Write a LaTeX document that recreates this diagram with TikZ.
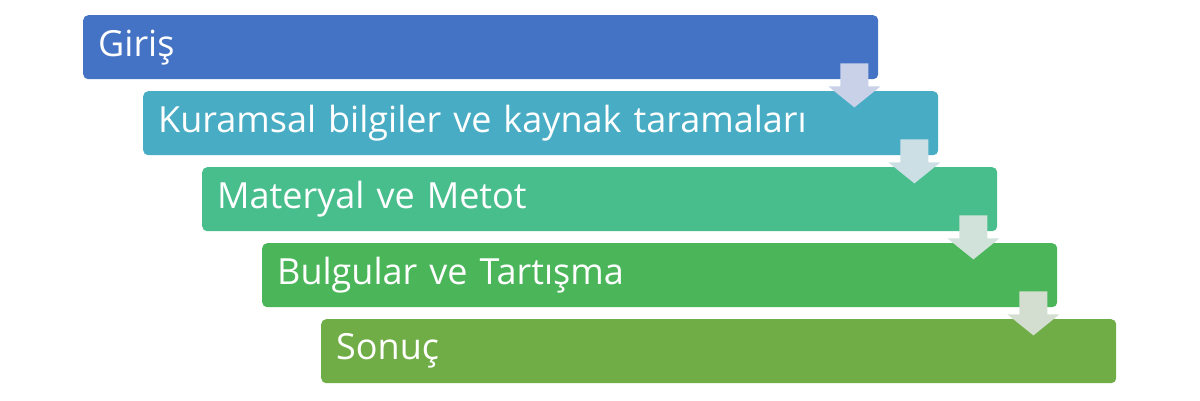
\documentclass[tikz,border=0pt]{standalone}
\usepackage{fontspec}
\setmainfont{Open Sans}
\definecolor{cA}{HTML}{4472C4}
\definecolor{cB}{HTML}{48ADC4}
\definecolor{cC}{HTML}{48BE8D}
\definecolor{cD}{HTML}{4BB55A}
\definecolor{cE}{HTML}{70AD47}
\definecolor{aA}{HTML}{C9D1E8}
\definecolor{aB}{HTML}{CCDFE5}
\definecolor{aC}{HTML}{D0E2D9}
\definecolor{aD}{HTML}{D3DED1}
\begin{document}
\begin{tikzpicture}[x=1pt,y=-1pt,
  stagebox/.style={draw=none, rounded corners=5pt, anchor=north west,
    minimum width=795pt, minimum height=64pt, text width=765pt,
    inner xsep=15pt, align=left, text=white,
    font=\fontsize{36}{42}\selectfont},
  downarrow/.style={draw=none}]
\useasboundingbox (0,0) rectangle (1200,400);
\node[stagebox, fill=cA] (b1) at (83,15) {Giriş};
\node[stagebox, fill=cB] (b2) at (143,91) {Kuramsal bilgiler ve kaynak taramaları};
\node[stagebox, fill=cC] (b3) at (202,167) {Materyal ve Metot};
\node[stagebox, fill=cD] (b4) at (262,243) {Bulgular ve Tartışma};
\node[stagebox, fill=cE] (b5) at (321,319) {Sonuç};
\foreach \s/\c in {b1/aA, b2/aB, b3/aC, b4/aD}{
  \fill[\c] ([xshift=-38pt,yshift=16pt]\s.south east) -- ([xshift=-10pt,yshift=16pt]\s.south east)
    -- ([xshift=-10pt,yshift=-7pt]\s.south east) -- ([xshift=2pt,yshift=-7pt]\s.south east)
    -- ([xshift=-24pt,yshift=-28pt]\s.south east) -- ([xshift=-50pt,yshift=-7pt]\s.south east)
    -- ([xshift=-38pt,yshift=-7pt]\s.south east) -- cycle;
}
\end{tikzpicture}
\end{document}
